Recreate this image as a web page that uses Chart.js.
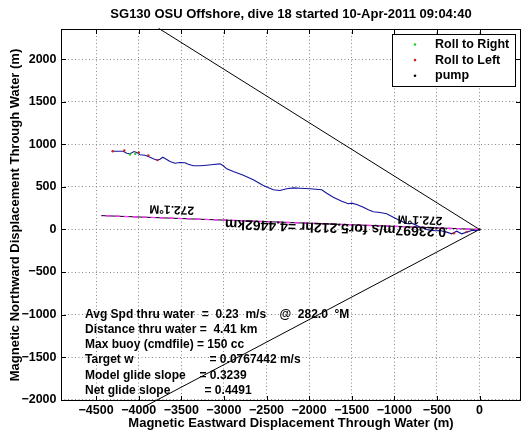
<!DOCTYPE html>
<html><head><meta charset="utf-8">
<script src="https://cdn.jsdelivr.net/npm/chart.js@4.4.0/dist/chart.umd.min.js"></script>
<style>html,body{margin:0;padding:0;background:#fff}#wrap{width:528px;height:442px}</style>
</head><body><div id="wrap"><canvas id="c" width="528" height="442"></canvas></div>
<script>
// ---------- data ----------
const chartTitle = 'SG130 OSU Offshore, dive 18 started 10-Apr-2011 09:04:40';
const xTitle = 'Magnetic Eastward Displacement Through Water (m)';
const yTitle = 'Magnetic Northward Displacement Through Water (m)';
const xTicks = [-4500,-4000,-3500,-3000,-2500,-2000,-1500,-1000,-500,0];
const yTicks = [-2000,-1500,-1000,-500,0,500,1000,1500,2000];
const xRange = [-4912, 487];
const yRange = [-2015, 2355];

// glider track (through-water displacement)
const trackX = [-4317,-4181,-4141,-4102,-4055,-4016,-3985,-3926,-3887,-3829,-3782,-3750,-3718,-3671,-3633,-3574,-3515,-3457,-3418,-3359,-3280,-3202,-3124,-3046,-3007,-2967,-2890,-2772,-2655,-2538,-2420,-2342,-2263,-2185,-2107,-1989,-1852,-1793,-1716,-1617,-1540,-1500,-1441,-1364,-1305,-1246,-1168,-1089,-1012,-953,-913,-874,-836,-796,-700,-600,-520,-464,-385,-326,-268,-209,-150,-92,-33,0];
const trackY = [919,919,896,889,915,900,877,872,857,830,813,825,849,822,798,778,786,783,766,748,748,755,763,771,748,712,681,637,583,516,466,458,478,489,485,478,466,426,379,332,302,309,293,262,231,208,200,184,144,114,97,74,67,74,30,-5,-15,-12,-31,-51,-20,-51,-31,-12,-12,0];

// average heading line (272.1 deg M, 4.4462 km)
const headingX = [0,-4443];
const headingY = [0,163];
// cone lines
const coneUpX = [0,-3766];
const coneUpY = [0,2363];
const coneLoX = [0,-3929];
const coneLoY = [0,-2080];

// roll / pump markers
const rollRightX = [-4102,-4040];
const rollRightY = [880,890];
const rollLeftX = [-4305,-4169,-4000,-3887,-3780,-300,-150];
const rollLeftY = [919,927,905,869,815,-45,-28];
const pumpX = [0];
const pumpY = [0];
const legendLabels = ['Roll to Right','Roll to Left','pump'];

// annotations
const headingText = '272.1\u00B0M';
const legText = '0.23697m/s for5.212hr =4.4462km';
const statNames = ['Avg Spd thru water','Distance thru water','Max buoy (cmdfile)','Target w','Model glide slope','Net glide slope'];
const statValues = ['=  0.23  m/s    @  282.0  \u00B0M','=  4.41 km','= 150 cc','= 0.0767442 m/s','= 0.3239','= 0.4491'];

// ---------- chart ----------
const FF = "'Liberation Sans', Arial, Helvetica, sans-serif";
const bold13 = {family: FF, size: 13, weight: 'bold'};
const tickFont = {family: FF, size: 12.5, weight: 'bold'};
const pts = (xs, ys) => xs.map((x, i) => ({x, y: ys[i]}));
const fmt = v => v < 0 ? '\u2212' + Math.abs(v) : String(v);

const datasets = [
  {label: legendLabels[0], data: pts(rollRightX, rollRightY), showLine: false, pointRadius: 1.2, pointBackgroundColor: '#22cc22', pointBorderWidth: 0, legendItem: true},
  {label: legendLabels[1], data: pts(rollLeftX, rollLeftY), showLine: false, pointRadius: 1.2, pointBackgroundColor: '#cc2222', pointBorderWidth: 0, legendItem: true},
  {label: legendLabels[2], data: pts(pumpX, pumpY), showLine: false, pointRadius: 1.2, pointBackgroundColor: '#000', pointBorderWidth: 0, legendItem: true},
  {label: 'track', data: pts(trackX, trackY), showLine: true, borderColor: '#14149c', borderWidth: 1.1, pointRadius: 0, tension: 0},
  {label: 'heading m', data: pts(headingX, headingY), showLine: true, borderColor: '#ff33ff', borderWidth: 1.4, borderDash: [5, 4], pointRadius: 0},
  {label: 'heading k', data: pts(headingX, headingY), showLine: true, borderColor: '#000', borderWidth: 1, pointRadius: 0},
  {label: 'cone up', data: pts(coneUpX, coneUpY), showLine: true, borderColor: '#000', borderWidth: 1, pointRadius: 0, clip: false},
  {label: 'cone lo', data: pts(coneLoX, coneLoY), showLine: true, borderColor: '#000', borderWidth: 1, pointRadius: 0, clip: false}
];

const overlay = {
  id: 'overlay',
  afterDraw(chart) {
    const {ctx, chartArea: a} = chart;
    const xs = chart.scales.x, ys = chart.scales.y;
    const L = Math.round(a.left) + 0.5, R = Math.round(a.right) - 0.5;
    const T = Math.round(a.top) + 0.5, B = Math.round(a.bottom) - 0.5;
    ctx.save();
    ctx.strokeStyle = '#000';
    ctx.lineWidth = 1;
    ctx.setLineDash([]);
    ctx.strokeRect(L, T, R - L, B - T);
    // inward tick marks on all sides
    const tl = 4.5;
    ctx.beginPath();
    xTicks.forEach(v => {
      const p = Math.round(xs.getPixelForValue(v)) + 0.5;
      ctx.moveTo(p, B); ctx.lineTo(p, B - tl);
      ctx.moveTo(p, T); ctx.lineTo(p, T + tl);
    });
    yTicks.forEach(v => {
      const p = Math.round(ys.getPixelForValue(v)) + 0.5;
      ctx.moveTo(L, p); ctx.lineTo(L + tl, p);
      ctx.moveTo(R, p); ctx.lineTo(R - tl, p);
    });
    ctx.stroke();

    // rotated (upside-down) heading labels along the heading line
    ctx.fillStyle = '#000';
    const rot = (str, dx, dy, deg, size) => {
      ctx.save();
      ctx.font = 'bold ' + size + 'px ' + FF;
      ctx.translate(xs.getPixelForValue(dx), ys.getPixelForValue(dy));
      ctx.rotate(deg * Math.PI / 180);
      ctx.textAlign = 'center';
      ctx.textBaseline = 'middle';
      ctx.fillText(str, 0, 0);
      ctx.restore();
    };
    rot(headingText, -3613, 238, 182.1, 12);
    rot(headingText, -698, 117, 182.1, 12);
    rot(legText, -1690, 25, 182.1, 14);

    // statistics block
    ctx.font = 'bold 12px ' + FF;
    ctx.textAlign = 'left';
    ctx.textBaseline = 'middle';
    const x0 = xs.getPixelForValue(-4630);
    const y0 = ys.getPixelForValue(-998);
    const valOff = [116.7, 114.7, 112, 124.5, 114.5, 119.5];
    statNames.forEach((s, i) => {
      const y = y0 + i * 15.2;
      ctx.fillText(s, x0, y);
      ctx.fillText(statValues[i], x0 + valOff[i], y);
    });

    // legend box
    const lx = 392.5, ly = 34.5, lw = 123, lh = 52;
    ctx.fillStyle = '#fff';
    ctx.fillRect(lx, ly, lw, lh);
    ctx.strokeStyle = '#000';
    ctx.strokeRect(lx, ly, lw, lh);
    ctx.font = 'bold 12.5px ' + FF;
    const items = chart.data.datasets.filter(d => d.legendItem);
    items.forEach((d, i) => {
      const y = 44.5 + i * 15.6;
      ctx.fillStyle = d.pointBackgroundColor;
      ctx.beginPath();
      ctx.arc(415, y, 1.3, 0, Math.PI * 2);
      ctx.fill();
      ctx.fillStyle = '#000';
      ctx.fillText(d.label, 435, y);
    });
    ctx.restore();
  }
};

Chart.defaults.font.family = FF;
new Chart(document.getElementById('c'), {
  type: 'scatter',
  data: {datasets},
  plugins: [overlay],
  options: {
    responsive: false,
    animation: false,
    devicePixelRatio: 1,
    layout: {padding: {left: 0, right: 7, top: 0, bottom: 0}},
    plugins: {
      legend: {display: false},
      tooltip: {enabled: false},
      title: {display: true, fullSize: false, text: chartTitle, color: '#000', font: bold13, padding: {top: 6.2, bottom: 7.2}}
    },
    scales: {
      x: {
        type: 'linear', min: xRange[0], max: xRange[1],
        afterBuildTicks: s => { s.ticks = xTicks.map(v => ({value: v})); },
        afterFit: s => { s.height = 41; },
        grid: {color: '#8a8a8a', lineWidth: 1, drawTicks: false},
        border: {display: false, dash: [1, 2.5]},
        ticks: {color: '#000', font: tickFont, padding: 2.5, maxRotation: 0, autoSkip: false, callback: fmt},
        title: {display: true, text: xTitle, color: '#000', font: bold13, padding: {top: 0, bottom: 11.2}}
      },
      y: {
        type: 'linear', min: yRange[0], max: yRange[1],
        afterBuildTicks: s => { s.ticks = yTicks.map(v => ({value: v})); },
        afterFit: s => { s.width = 61; },
        grid: {color: '#8a8a8a', lineWidth: 1, drawTicks: false},
        border: {display: false, dash: [1, 2.5]},
        ticks: {color: '#000', font: tickFont, padding: 4.5, autoSkip: false, callback: fmt},
        title: {display: true, text: yTitle, color: '#000', font: bold13, padding: {top: 7.2, bottom: 0}}
      }
    }
  }
});
</script>
</body></html>
